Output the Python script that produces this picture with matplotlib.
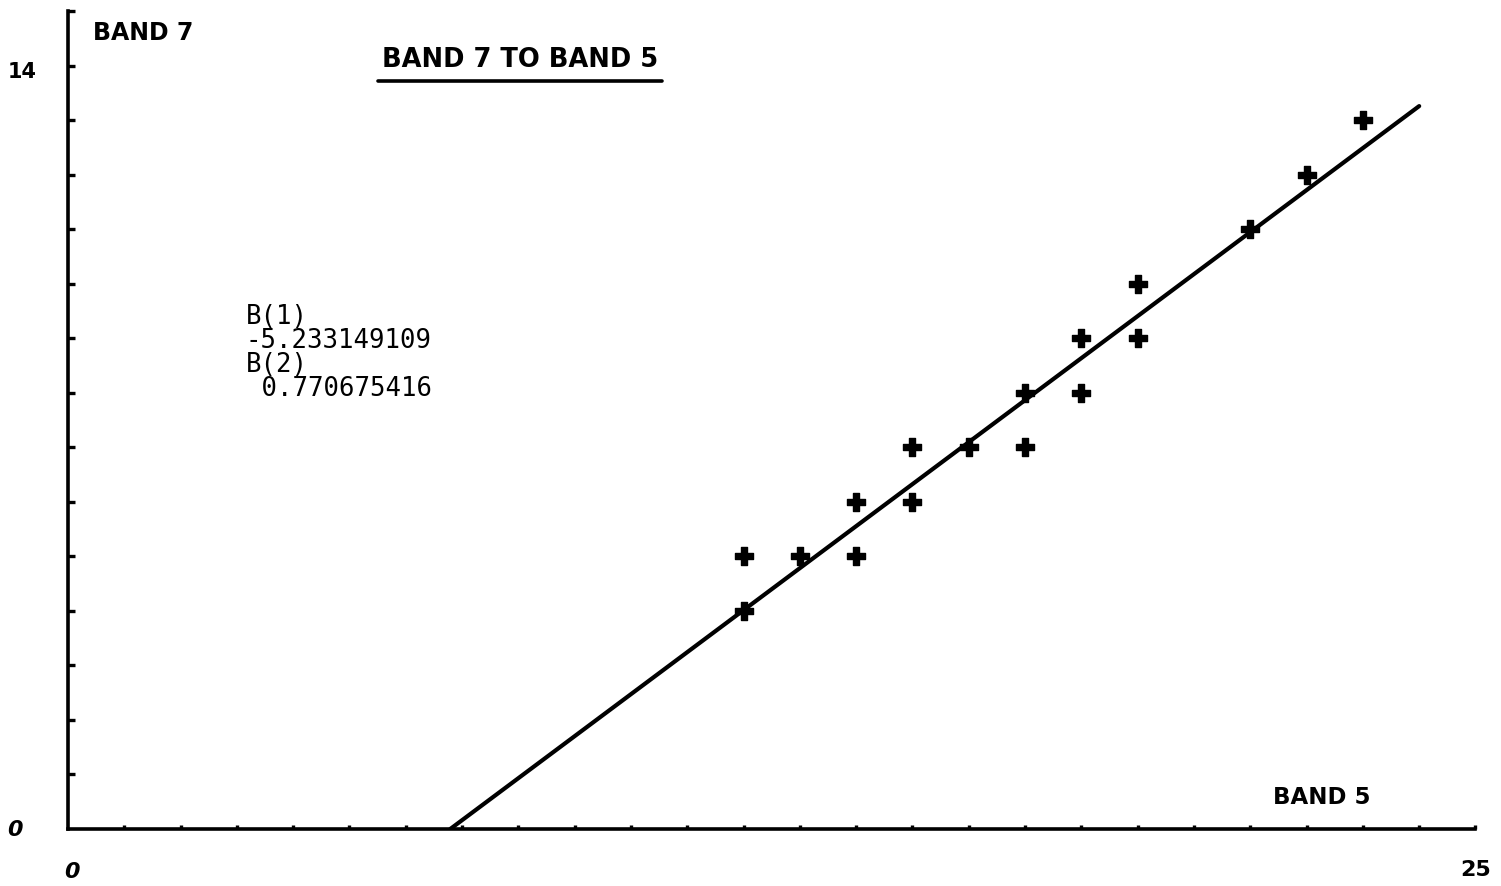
import numpy as np
import matplotlib.pyplot as plt

band5 = np.array([12, 12, 13, 14, 14, 15, 15, 16, 17, 17, 18, 18, 19, 19, 21, 22, 23])
band7 = np.array([5, 4, 5, 6, 5, 7, 6, 7, 8, 7, 9, 8, 10, 9, 11, 12, 13])

b1 = -5.233149109
b2 = 0.770675416
fit_end = 24

x_max = 25
y_max = 15
y_label_top = 14

# ---- figure ----
fig = plt.figure(figsize=(15.01, 8.87), dpi=100)
ax = fig.add_axes([0.0453, 0.0643, 0.9377, 0.9217])
ax.set_xlim(0, x_max)
ax.set_ylim(0, y_max)

for s in ['top', 'right']:
    ax.spines[s].set_visible(False)
ax.spines['left'].set_linewidth(2.6)
ax.spines['bottom'].set_linewidth(2.6)

ax.set_xticks(np.arange(1, x_max + 1))
ax.set_yticks(np.arange(1, y_max + 1))
ax.set_xticklabels([])
ax.set_yticklabels([])
ax.tick_params(axis='x', direction='in', length=3, width=2.4)
ax.tick_params(axis='y', direction='in', length=5, width=2.4)

# regression line
x_start = -b1 / b2
line_x = np.array([x_start, fit_end])
ax.plot(line_x, b1 + b2 * line_x, color='black', lw=3.0, solid_capstyle='round')

# data points
ax.scatter(band5, band7, marker='P', s=170, color='black', zorder=3)

# ---- labels ----
bold = dict(family='DejaVu Sans', fontweight='bold', color='black')
ax.text(0.44, 14.62, 'BAND 7', fontsize=17, va='center', ha='left', clip_on=False, **bold)
ax.text(8.03, 14.13, 'BAND 7 TO BAND 5', fontsize=18.5, va='center', ha='center', **bold)
ax.plot([5.5, 10.55], [13.72, 13.72], color='black', lw=2.6, solid_capstyle='round')
ax.text(21.4, 0.6, 'BAND 5', fontsize=16.5, va='center', ha='left', **bold)

ax.text(-0.82, y_label_top - 0.1, str(y_label_top), fontsize=15, va='center', ha='center',
        clip_on=False, **bold)
ax.text(-0.94, 0, '0', fontsize=16, va='center', ha='center', clip_on=False, style='italic', **bold)
ax.text(0.07, -0.77, '0', fontsize=16, va='center', ha='center', clip_on=False, style='italic', **bold)
ax.text(x_max, -0.73, str(x_max), fontsize=16, va='center', ha='center', clip_on=False, **bold)

coef_text = f"B(1)\n{b1:.9f}\nB(2)\n {b2:.9f}"
ax.text(3.16, 9.65, coef_text, fontsize=18.5, family='DejaVu Sans Mono', va='top', ha='left',
        linespacing=0.9, color='black')

fig.savefig('out.png', dpi=100)
